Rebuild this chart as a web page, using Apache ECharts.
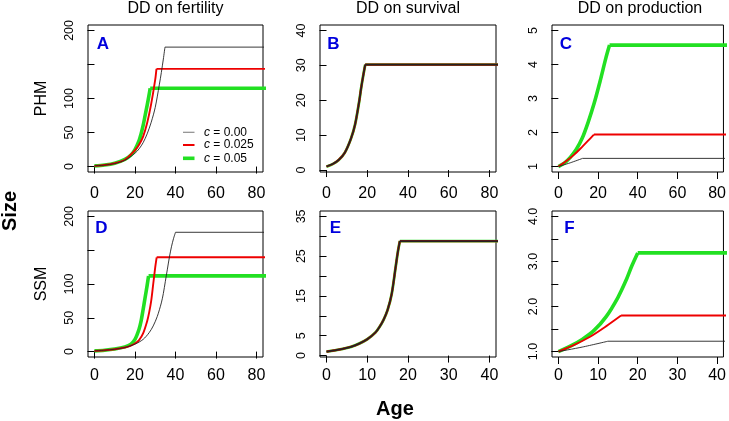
<!DOCTYPE html>
<html>
<head>
<meta charset="utf-8">
<script src="https://cdn.jsdelivr.net/npm/echarts@6/dist/echarts.min.js"></script>
<style>html,body{margin:0;padding:0;background:#fff}#c{width:729px;height:421px}</style>
</head>
<body>
<div id="c"></div>
<script>
// ---- data: [age, size] ----
// PHM, DD on fertility (A)
const phmFert_c000 = [[0,1],[5,2.1],[10,4.4],[15,9.3],[20,19.6],[22,26],[24,35],[26,48],[28,65],[30,87],[32,120],[33,138],[34,158],[34.8,175.5],[100,175.5]];
const phmFert_c025 = [[0,1],[5,2.2],[10,4.8],[15,10],[20,24],[22,32],[24,44],[26,64],[28,92],[30,128],[30.6,143.6],[100,143.6]];
const phmFert_c050 = [[0,1],[5,2.3],[10,5],[15,10.5],[18,17],[20,25],[22,38],[23,48],[24,60],[25,75],[26,90],[27,106],[27.5,115],[100,115]];
// PHM, DD on survival (B)
const phmSurv_c000 = [[0,1],[3,1.7],[6,2.9],[9,5],[12,9],[14,13],[16,19.5],[17,23.5],[18,27],[19,30.2],[100,30.2]];
const phmSurv_c025 = [[0,1],[3,1.7],[6,2.9],[9,5],[12,9],[14,13],[16,19.5],[17,23.5],[18,27],[19,30.2],[100,30.2]];
const phmSurv_c050 = [[0,1],[3,1.7],[6,2.9],[9,5],[12,9],[14,13],[16,19.5],[17,23.5],[18,27],[19,30.2],[100,30.2]];
// PHM, DD on production (C)
const phmProd_c000 = [[0,1],[6,1.11],[12.2,1.24],[100,1.24]];
const phmProd_c025 = [[0,1],[4,1.16],[8,1.35],[12,1.58],[15,1.76],[17.9,1.94],[100,1.94]];
const phmProd_c050 = [[0,1],[3,1.1],[6,1.27],[9,1.5],[12,1.83],[15,2.3],[18,2.85],[21,3.5],[24,4.2],[25.8,4.57],[100,4.57]];
// SSM, DD on fertility (D)
const ssmFert_c000 = [[0,1],[5,2],[10,3.5],[15,6],[20,11],[24,18],[27,28],[29,38],[31,52],[33,72],[34,86],[35,104],[36,122],[37,140],[38,155],[39,167],[40,176.5],[100,176.5]];
const ssmFert_c025 = [[0,1],[5,2],[10,3.5],[15,6],[18,9],[20,12],[22,17],[24,27],[26,45],[27,58],[28,75],[29,100],[30,125],[30.7,139.5],[100,139.5]];
const ssmFert_c050 = [[0,1],[5,2],[10,3.8],[15,7],[18,11],[20,18],[22,33],[23,45],[24,62],[25,80],[26,98],[26.7,112],[100,112]];
// SSM, DD on survival (E)
const ssmSurv_c000 = [[0,1],[2,1.3],[4,1.7],[6,2.2],[8,3],[10,4.1],[12,5.8],[13,7.2],[14,9],[15,11.5],[16,15.5],[17,22.5],[17.5,26],[18,28.8],[50,28.8]];
const ssmSurv_c025 = [[0,1],[2,1.3],[4,1.7],[6,2.2],[8,3],[10,4.1],[12,5.8],[13,7.2],[14,9],[15,11.5],[16,15.5],[17,22.5],[17.5,26],[18,28.8],[50,28.8]];
const ssmSurv_c050 = [[0,1],[2,1.3],[4,1.7],[6,2.2],[8,3],[10,4.1],[12,5.8],[13,7.2],[14,9],[15,11.5],[16,15.5],[17,22.5],[17.5,26],[18,28.8],[50,28.8]];
// SSM, DD on production (F)
const ssmProd_c000 = [[0,1],[6,1.1],[12.5,1.23],[50,1.23]];
const ssmProd_c025 = [[0,1],[4,1.15],[8,1.33],[12,1.56],[15.8,1.8],[50,1.8]];
const ssmProd_c050 = [[0,1],[3,1.12],[6,1.27],[9,1.47],[12,1.77],[15,2.2],[17,2.57],[18.5,2.9],[20,3.19],[50,3.19]];

// ---- ticks / labels ----
const colTitles = ['DD on fertility', 'DD on survival', 'DD on production'];
const rowTitles = ['PHM', 'SSM'];
const panelLetters = ['A','B','C','D','E','F'];
const legendLabels = ['0.00', '0.025', '0.05'];
const xTicks80 = [0,20,40,60,80];
const xTicks40 = [0,10,20,30,40];
const yTicksA = [0,50,100,150,200], yLabelsA = [0,50,100,200];
const yTicksB = [0,10,20,30,40];
const yTicksC = [1,2,3,4,5];
const yTicksE = [0,5,10,15,20,25,30,35], yLabelsE = [0,5,15,25,35];
const yTicksF = [1,1.5,2,2.5,3,3.5,4], yLabelsF = [1,2,3,4];

const FONT = '"Liberation Sans", Arial, Helvetica, sans-serif';
const COL = {c000: '#222222', c025: '#ee0000', c050: '#22e022'};

const W_NORMAL = [3.6, 1.9, 0.9];
const W_OVERLAP = [2.8, 2.2, 1.7];
const panels = [
  {grid:{left:88, top:25, width:175, height:147}, x:[-3.2,83.2], xt:xTicks80, xm:14, y:[-8,208], yt:yTicksA, yl:yLabelsA, w:W_NORMAL, d:[phmFert_c050, phmFert_c025, phmFert_c000]},
  {grid:{left:320, top:25, width:176, height:147}, x:[-3.2,83.2], xt:xTicks80, xm:14, y:[-0.56,41.56], yt:yTicksB, yl:yTicksB, w:W_OVERLAP, d:[phmSurv_c050, phmSurv_c025, phmSurv_c000]},
  {grid:{left:552, top:25, width:176, height:147}, x:[-3.2,83.2], xt:xTicks80, xm:14, y:[0.84,5.16], yt:yTicksC, yl:yTicksC, w:W_NORMAL, d:[phmProd_c050, phmProd_c025, phmProd_c000]},
  {grid:{left:88, top:211, width:175, height:146}, x:[-3.2,83.2], xt:xTicks80, xm:11, y:[-8,208], yt:yTicksA, yl:yLabelsA, w:W_NORMAL, d:[ssmFert_c050, ssmFert_c025, ssmFert_c000]},
  {grid:{left:320, top:211, width:176, height:146}, x:[-1.6,41.6], xt:xTicks40, xm:11, y:[-0.36,36.36], yt:yTicksE, yl:yLabelsE, w:W_OVERLAP, d:[ssmSurv_c050, ssmSurv_c025, ssmSurv_c000]},
  {grid:{left:552, top:211, width:176, height:146}, x:[-1.6,41.6], xt:xTicks40, xm:11, y:[0.88,4.12], yt:yTicksF, yl:yLabelsF, w:W_NORMAL, fmt:v=>Number(v).toFixed(1), d:[ssmProd_c050, ssmProd_c025, ssmProd_c000]}
];

const grids = [], xAxes = [], yAxes = [], series = [];
const lineCols = [COL.c050, COL.c025, COL.c000];
panels.forEach((p, i) => {
  grids.push(Object.assign({show:true, borderColor:'#000', borderWidth:1, backgroundColor:'transparent', containLabel:false}, p.grid));
  xAxes.push({type:'value', gridIndex:i, min:p.x[0], max:p.x[1],
    axisLine:{show:false}, splitLine:{show:false},
    axisTick:{show:true, length:7, customValues:p.xt, lineStyle:{color:'#000', width:1}},
    axisLabel:{show:true, customValues:p.xt, fontSize:16, color:'#000', fontFamily:FONT, margin:p.xm}});
  yAxes.push({type:'value', gridIndex:i, min:p.y[0], max:p.y[1],
    axisLine:{show:false}, splitLine:{show:false},
    axisTick:{show:true, length:7, customValues:p.yt, lineStyle:{color:'#000', width:1}},
    axisLabel:{show:true, customValues:p.yl, fontSize:12.5, color:'#000', fontFamily:FONT, rotate:90, margin:12,
      formatter: p.fmt ? p.fmt : (v => String(v))}});
  p.d.forEach((arr, k) => {
    const ls = {color:lineCols[k], width:p.w[k], cap:'butt', join:'round'};
    // rising part (smoothed) up to the plateau start, then the plateau
    series.push({type:'line', xAxisIndex:i, yAxisIndex:i, data:arr.slice(0, arr.length - 1), showSymbol:false, symbol:'none',
      smooth:0.3, clip:true, silent:true, animation:false, lineStyle:ls, z:2 + k});
    series.push({type:'line', xAxisIndex:i, yAxisIndex:i, data:arr.slice(arr.length - 2), showSymbol:false, symbol:'none',
      clip:true, silent:true, animation:false, lineStyle:ls, z:2 + k});
  });
});

const graphics = [];
const colCenters = [175.5, 408, 640];
colTitles.forEach((t, i) => graphics.push({type:'text', x:colCenters[i], y:9,
  style:{text:t, font:'16px ' + FONT, fill:'#000', textAlign:'center', textVerticalAlign:'middle'}}));
const rowCenters = [98.5, 284];
rowTitles.forEach((t, i) => graphics.push({type:'text', x:42, y:rowCenters[i], rotation:Math.PI/2,
  style:{text:t, font:'16px ' + FONT, fill:'#000', textAlign:'center', textVerticalAlign:'middle'}}));
graphics.push({type:'text', x:10, y:211, rotation:Math.PI/2,
  style:{text:'Size', font:'bold 20px ' + FONT, fill:'#000', textAlign:'center', textVerticalAlign:'middle'}});
graphics.push({type:'text', x:395, y:409,
  style:{text:'Age', font:'bold 20px ' + FONT, fill:'#000', textAlign:'center', textVerticalAlign:'middle'}});
const letterPos = [[103,44],[333.5,44],[566,44],[101.5,228],[335.5,228],[569.5,228]];
panelLetters.forEach((t, i) => graphics.push({type:'text', x:letterPos[i][0], y:letterPos[i][1],
  style:{text:t, font:'bold 17px ' + FONT, fill:'#0000dd', textAlign:'center', textVerticalAlign:'middle'}}));
// legend in panel A
const legY = [132.3, 145, 158.3];
const legCols = ['#8c8c8c', COL.c025, COL.c050];
const legW = [1.2, 2, 3.6];
legendLabels.forEach((t, i) => {
  graphics.push({type:'line', shape:{x1:183, y1:legY[i], x2:194.5, y2:legY[i]}, style:{stroke:legCols[i], lineWidth:legW[i]}});
  graphics.push({type:'text', x:204, y:legY[i],
    style:{text:'{i|c} = ' + t, font:'12px ' + FONT, fill:'#000', textAlign:'left', textVerticalAlign:'middle',
      rich:{i:{fontStyle:'italic', fontSize:12, fontFamily:FONT}}}});
});

const chart = echarts.init(document.getElementById('c'), null, {renderer:'canvas'});
chart.setOption({animation:false, grid:grids, xAxis:xAxes, yAxis:yAxes, series:series, graphic:graphics});
</script>
</body>
</html>
